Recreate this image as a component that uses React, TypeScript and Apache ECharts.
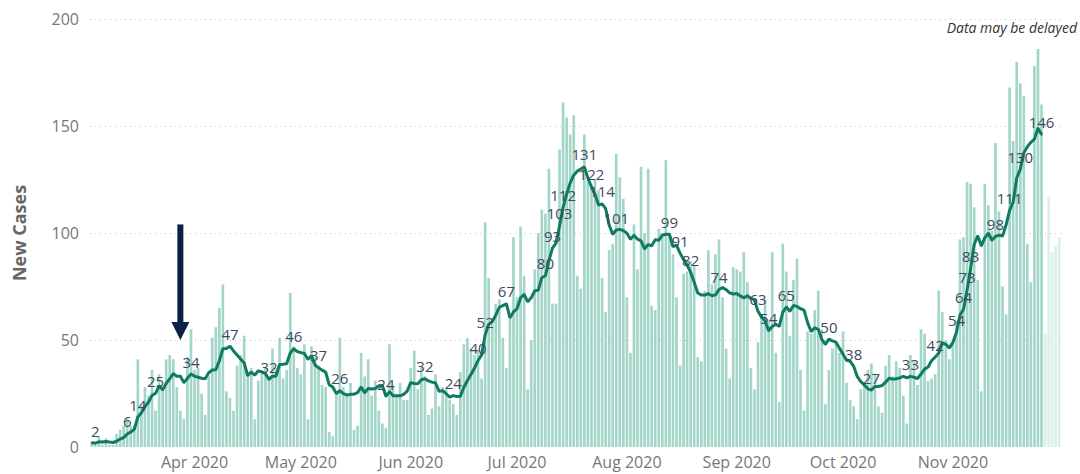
import React, { useEffect, useRef } from "react";
import * as echarts from "echarts";

// ---- data ----
const START_DATE = "2020-03-03";
const DELAYED_FROM = "2020-11-27";

// daily new cases, by month
const casesMar = [2, 1, 5, 1, 4, 1, 1, 6, 8, 10, 13, 10, 10, 41, 20, 28, 24, 36, 17, 34, 28, 41, 43, 41, 28, 17, 13, 42, 55];
const casesApr = [36, 37, 25, 15, 33, 51, 56, 65, 76, 26, 23, 17, 38, 43, 52, 35, 37, 13, 31, 35, 37, 33, 46, 37, 51, 32, 36, 72, 47, 37];
const casesMay = [34, 48, 13, 47, 42, 38, 29, 28, 7, 5, 26, 51, 28, 25, 30, 8, 10, 44, 33, 41, 24, 31, 17, 11, 9, 48, 28, 24, 30, 22, 22];
const casesJun = [37, 45, 27, 37, 33, 15, 18, 34, 19, 28, 27, 22, 20, 15, 35, 48, 51, 46, 43, 45, 32, 105, 79, 60, 67, 69, 51, 37, 60, 98];
const casesJul = [70, 103, 80, 27, 50, 83, 100, 111, 109, 130, 67, 67, 139, 161, 154, 146, 155, 80, 74, 146, 125, 122, 125, 120, 79, 63, 92, 95, 137, 126, 116];
const casesAug = [70, 44, 104, 83, 131, 100, 130, 66, 64, 102, 100, 134, 100, 90, 70, 38, 81, 82, 87, 85, 42, 40, 73, 92, 76, 90, 97, 70, 46, 32, 84];
const casesSep = [83, 82, 91, 77, 37, 27, 49, 62, 69, 59, 91, 44, 21, 95, 82, 52, 78, 88, 36, 17, 54, 53, 64, 73, 55, 20, 36, 46, 49, 44];
const casesOct = [54, 30, 22, 19, 13, 27, 30, 36, 39, 34, 19, 16, 38, 43, 33, 40, 37, 24, 11, 43, 40, 29, 55, 53, 31, 32, 34, 73, 63, 50, 41];
const casesNov = [49, 59, 97, 98, 124, 123, 112, 78, 26, 123, 113, 101, 142, 110, 75, 62, 168, 143, 180, 170, 164, 95, 77, 178, 186, 160, 53, 117, 91, 94];
const casesDec = [98];

// 7-day average line, by month (ends Nov 26)
const avgMar = [2, 1.8, 2.4, 2.3, 2.6, 2.3, 2.1, 2.7, 3.7, 4.4, 6.1, 7.0, 8.3, 14.0, 16.0, 18.9, 20.9, 24.1, 25.1, 28.6, 26.7, 29.7, 31.9, 34.3, 33.1, 33.1, 30.1, 32.1, 34.1];
const avgApr = [33.1, 32.6, 32.1, 31.9, 34.7, 36.0, 36.1, 40.3, 45.9, 46.0, 47.1, 44.9, 43.0, 41.1, 39.3, 33.4, 35.0, 33.6, 35.6, 35.1, 34.3, 31.6, 33.1, 33.1, 38.6, 38.7, 38.9, 43.9, 45.9, 44.6];
const avgMay = [44.1, 43.7, 41.0, 42.6, 38.3, 37.0, 35.9, 35.0, 29.1, 28.0, 25.0, 26.3, 24.9, 24.3, 24.6, 24.7, 25.4, 28.0, 25.4, 27.3, 27.1, 27.3, 28.6, 28.7, 23.7, 25.9, 24.0, 24.0, 23.9, 24.6, 26.1];
const avgJun = [30.1, 29.7, 29.6, 31.4, 31.9, 30.9, 30.3, 29.9, 26.1, 26.3, 24.9, 23.3, 24.0, 23.6, 23.7, 27.9, 31.1, 33.9, 36.9, 40.4, 42.9, 52.4, 57.3, 58.6, 61.6, 65.3, 66.1, 66.9, 60.4, 63.1];
const avgJul = [64.6, 69.7, 71.3, 67.9, 69.7, 73.0, 73.3, 79.1, 80.0, 87.1, 92.9, 95.3, 103.3, 112.0, 118.1, 123.4, 127.0, 128.9, 129.9, 130.9, 125.7, 121.6, 118.1, 113.1, 113.6, 111.4, 103.7, 99.4, 101.4, 101.7, 101.1];
const avgAug = [99.9, 97.1, 98.9, 97.1, 96.3, 92.6, 94.6, 94.0, 96.9, 96.6, 99.0, 99.4, 99.4, 93.7, 94.3, 90.6, 87.6, 85.0, 81.6, 77.0, 72.0, 71.0, 71.0, 71.6, 70.7, 71.1, 73.6, 74.5, 73.5, 72.0, 71.5];
const avgSep = [71.7, 70.6, 69.7, 70.7, 69.4, 68.7, 63.4, 60.7, 58.9, 54.3, 56.3, 57.3, 56.4, 63.0, 65.4, 63.4, 66.1, 65.7, 64.6, 64.0, 58.1, 54.0, 55.7, 55.0, 50.3, 48.0, 50.4, 49.6, 49.0, 46.1];
const avgOct = [43.4, 40.5, 40.1, 37.7, 33.0, 30.5, 29.0, 27.2, 26.6, 28.3, 28.3, 28.7, 30.3, 32.1, 31.7, 31.9, 32.3, 33.0, 32.3, 33.0, 32.6, 32.0, 34.1, 36.4, 37.4, 40.4, 42.0, 43.9, 48.7, 48.0, 46.3];
const avgNov = [48.9, 53.6, 61.7, 64.4, 73.4, 83.4, 94.6, 98.7, 94.0, 97.7, 99.9, 96.6, 98.4, 99.0, 98.6, 103.7, 110.6, 114.4, 125.7, 129.7, 137.4, 140.3, 142.4, 143.9, 149.0, 146.0];

// dates whose average carries a data label
const labeledDates = [
  "2020-03-04", "2020-03-13", "2020-03-16", "2020-03-21", "2020-03-31",
  "2020-04-11", "2020-04-22", "2020-04-29", "2020-05-06", "2020-05-12", "2020-05-25",
  "2020-06-05", "2020-06-13", "2020-06-20", "2020-06-22", "2020-06-28",
  "2020-07-09", "2020-07-11", "2020-07-13", "2020-07-14", "2020-07-20", "2020-07-22", "2020-07-25", "2020-07-29",
  "2020-08-13", "2020-08-16", "2020-08-19", "2020-08-27",
  "2020-09-07", "2020-09-10", "2020-09-15", "2020-09-27",
  "2020-10-04", "2020-10-09", "2020-10-20", "2020-10-27",
  "2020-11-02", "2020-11-04", "2020-11-05", "2020-11-06", "2020-11-13", "2020-11-17", "2020-11-20", "2020-11-26",
];

const Y_MIN = 0;
const Y_MAX = 200;
const Y_INTERVAL = 50;
const MONTH_NAMES = ["Jan", "Feb", "Mar", "Apr", "May", "Jun", "Jul", "Aug", "Sep", "Oct", "Nov", "Dec"];

// annotation arrow: date, top value, tip value
const ARROW_DATE = "2020-03-28";
const ARROW_FROM = 104;
const ARROW_TO = 50;

const FONT = '"Segoe UI", "Open Sans", sans-serif';
const BAR_COLOR = "#a3d6c8";
const BAR_DELAYED = "#d9efe9";
const LINE_COLOR = "#0f7c60";

function buildDates(n: number): string[] {
  const out: string[] = [];
  const t0 = new Date(START_DATE + "T00:00:00Z").getTime();
  for (let k = 0; k < n; k++) {
    out.push(new Date(t0 + k * 86400000).toISOString().slice(0, 10));
  }
  return out;
}

export default function App() {
  const ref = useRef<HTMLDivElement>(null);

  useEffect(() => {
    const chart = echarts.init(ref.current as HTMLDivElement, null, { renderer: "svg" });
    const cases = [
      ...casesMar, ...casesApr, ...casesMay, ...casesJun, ...casesJul,
      ...casesAug, ...casesSep, ...casesOct, ...casesNov, ...casesDec,
    ];
    const avg = [
      ...avgMar, ...avgApr, ...avgMay, ...avgJun, ...avgJul,
      ...avgAug, ...avgSep, ...avgOct, ...avgNov,
    ];
    const dates = buildDates(cases.length);
    const labelSet = new Set(labeledDates);
    const lastIdx = dates.length - 1;

    const barData = cases.map((v, k) =>
      dates[k] >= DELAYED_FROM ? { value: v, itemStyle: { color: BAR_DELAYED } } : v
    );
    const lineData = avg.map((v, k) =>
      labelSet.has(dates[k]) ? { value: v, label: { show: true } } : v
    );

    chart.setOption({
      animation: false,
      grid: { left: 90, right: 19, top: 19, bottom: 27, containLabel: false },
      xAxis: {
        type: "category",
        data: dates,
        boundaryGap: true,
        axisLine: { show: false },
        axisTick: { show: false },
        splitLine: { show: false },
        axisLabel: {
          interval: (idx: number, val: string) => val.endsWith("-01") && idx !== lastIdx,
          formatter: (val: string) => MONTH_NAMES[parseInt(val.slice(5, 7), 10) - 1] + " " + val.slice(0, 4),
          color: "#777777",
          fontSize: 16,
          fontFamily: FONT,
          margin: 7,
        },
      },
      yAxis: {
        type: "value",
        min: Y_MIN,
        max: Y_MAX,
        interval: Y_INTERVAL,
        name: "New Cases",
        nameLocation: "middle",
        nameRotate: 90,
        nameGap: 62,
        nameTextStyle: { fontSize: 18, fontWeight: "bold", color: "#666666", fontFamily: FONT },
        axisLine: { show: false },
        axisTick: { show: false },
        axisLabel: { color: "#777777", fontSize: 16, fontFamily: FONT, margin: 11 },
        splitLine: {
          show: true,
          showMinLine: false,
          lineStyle: { color: "#c8c8c8", width: 1, type: [1, 4] },
        },
      },
      series: [
        {
          type: "bar",
          data: barData,
          barCategoryGap: "25%",
          itemStyle: { color: BAR_COLOR },
          silent: true,
        },
        {
          type: "line",
          data: lineData,
          showSymbol: true,
          showAllSymbol: true,
          symbol: "circle",
          symbolSize: 2,
          itemStyle: { color: LINE_COLOR },
          lineStyle: { color: LINE_COLOR, width: 3 },
          label: {
            show: false,
            position: "top",
            distance: 4,
            color: "#3d4a5f",
            fontSize: 15,
            fontFamily: FONT,
            formatter: (p: any) => String(Math.round(p.value)),
          },
          silent: true,
          z: 3,
        },
      ],
    });

    const ai = dates.indexOf(ARROW_DATE);
    const pTop = chart.convertToPixel({ xAxisIndex: 0, yAxisIndex: 0 }, [ai, ARROW_FROM]) as number[];
    const pTip = chart.convertToPixel({ xAxisIndex: 0, yAxisIndex: 0 }, [ai, ARROW_TO]) as number[];
    const ax = pTop[0];
    const headH = 18;
    const headW = 9;
    chart.setOption({
      graphic: [
        {
          type: "rect",
          shape: { x: ax - 3, y: pTop[1], width: 6, height: pTip[1] - headH - pTop[1] + 1 },
          style: { fill: "#0c1f47" },
          silent: true,
        },
        {
          type: "polygon",
          shape: { points: [[ax - headW, pTip[1] - headH], [ax + headW, pTip[1] - headH], [ax, pTip[1]]] },
          style: { fill: "#0c1f47" },
          silent: true,
        },
        {
          type: "text",
          right: 3,
          top: 20,
          style: {
            text: "Data may be delayed",
            font: 'italic 14px "Segoe UI", "Open Sans", sans-serif',
            fill: "#333333",
          },
          silent: true,
        },
      ],
    });

    return () => chart.dispose();
  }, []);

  return (
    <div
      ref={ref}
      style={{ position: "fixed", left: 0, top: 0, width: 1080, height: 474, background: "#ffffff" }}
    />
  );
}
